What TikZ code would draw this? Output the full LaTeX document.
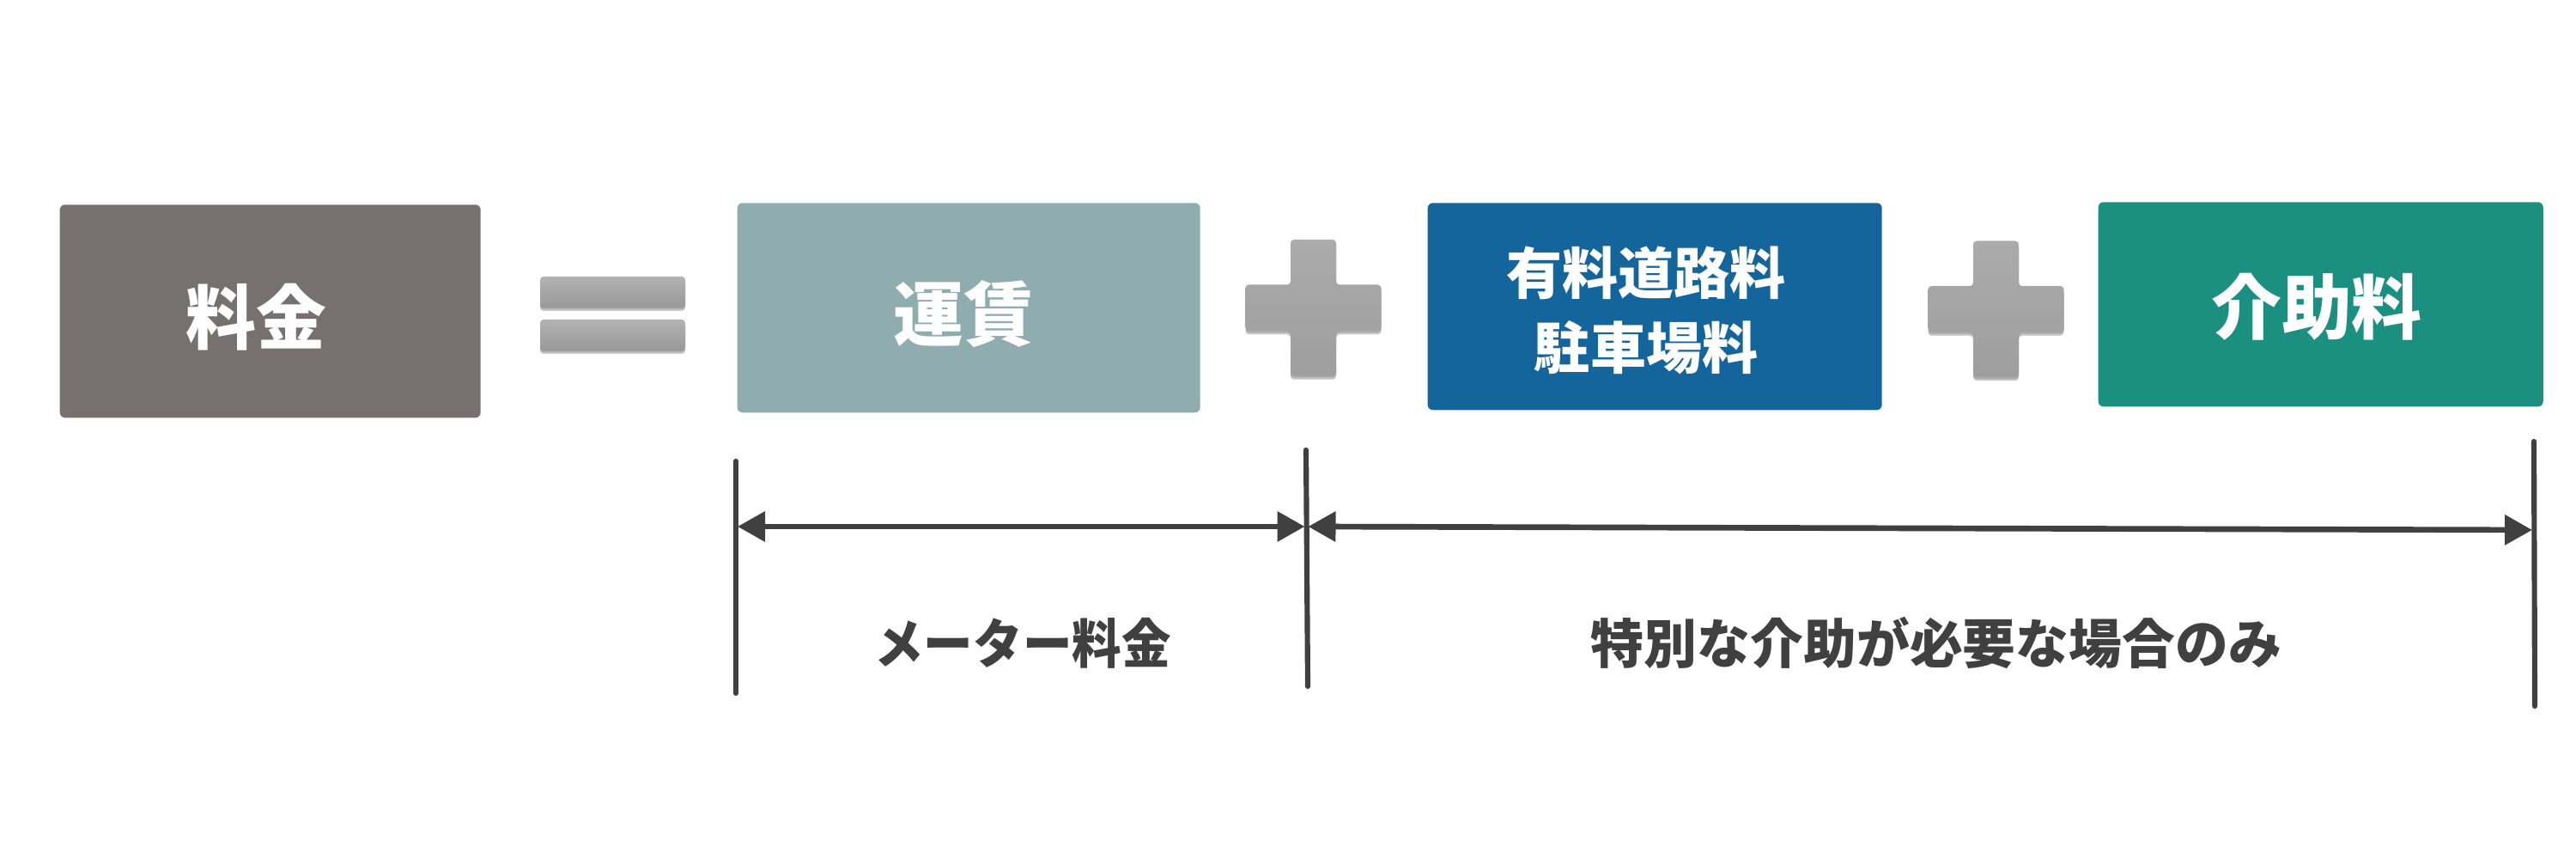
\documentclass[tikz,border=0pt]{standalone}
\usepackage{fontspec}
\newfontfamily\jp{Noto Sans CJK JP}
\usetikzlibrary{arrows.meta}
\definecolor{feegray}{HTML}{767070}
\definecolor{farecol}{HTML}{8FACAE}
\definecolor{tollblue}{HTML}{15659D}
\definecolor{careteal}{HTML}{1B9080}
\definecolor{dimgray}{HTML}{404040}
\tikzset{
  fbox/.style={rounded corners=0.06cm, draw=none},
  boxtext/.style={text=white, font=\jp\bfseries\fontsize{23.3pt}{26pt}\selectfont, inner sep=0pt},
  boxtextsmall/.style={text=white, font=\jp\bfseries\fontsize{18.5pt}{25pt}\selectfont, inner sep=0pt, align=center},
  dimline/.style={draw=dimgray, line width=1.75pt, line cap=round},
  dimarrow/.style={draw=dimgray, line width=1.9pt, {Triangle[length=0.32cm,width=0.34cm]}-{Triangle[length=0.32cm,width=0.34cm]}, shorten <=0.02cm, shorten >=0.02cm},
  dimtext/.style={text=dimgray, font=\jp\bfseries\fontsize{17.6pt}{20pt}\selectfont, inner sep=0pt},
  plussign/.pic={
    \foreach \o/\s in {0.18/-0.05,0.12/-0.035,0.08/-0.02}{
      \fill[black, opacity=\o, shift={(0,\s)}, rounded corners=0.04cm]
        (-0.265,0.79) -- (0.265,0.79) -- (0.265,0.265) -- (0.79,0.265) -- (0.79,-0.265) -- (0.265,-0.265) -- (0.265,-0.79) -- (-0.265,-0.79) -- (-0.265,-0.265) -- (-0.79,-0.265) -- (-0.79,0.265) -- (-0.265,0.265) -- cycle;}
    \shade[top color=black!33, bottom color=black!38, rounded corners=0.04cm]
      (-0.265,0.79) -- (0.265,0.79) -- (0.265,0.265) -- (0.79,0.265) -- (0.79,-0.265) -- (0.265,-0.265) -- (0.265,-0.79) -- (-0.265,-0.79) -- (-0.265,-0.265) -- (-0.79,-0.265) -- (-0.79,0.265) -- (-0.265,0.265) -- cycle;
  },
  equalbar/.pic={
    \foreach \o/\s in {0.2/-0.04,0.12/-0.025,0.08/-0.012}{
      \fill[black, opacity=\o, shift={(0,\s)}, rounded corners=0.04cm] (-0.845,-0.18) rectangle (0.845,0.18);}
    \shade[top color=black!30, bottom color=black!40, rounded corners=0.04cm] (-0.845,-0.18) rectangle (0.845,0.18);
  }
}
\begin{document}
\begin{tikzpicture}
\useasboundingbox[fill=white] (0,0) rectangle (30,10);

% boxes
\node[fbox, fill=feegray, minimum width=4.90cm, minimum height=2.48cm, anchor=south west] (fee) at (0.69,5.13) {};
\node[fbox, fill=farecol, minimum width=5.39cm, minimum height=2.44cm, anchor=south west] (fare) at (8.58,5.19) {};
\node[fbox, fill=tollblue, minimum width=5.29cm, minimum height=2.41cm, anchor=south west] (toll) at (16.62,5.22) {};
\node[fbox, fill=careteal, minimum width=5.18cm, minimum height=2.38cm, anchor=south west] (care) at (24.43,5.26) {};

% box texts
\node[boxtext] (feetext) at (2.98,6.31) {料金};
\node[boxtext] (faretext) at (11.22,6.34) {運賃};
\node[boxtextsmall] (tolltext1) at (19.17,6.82) {有料道路料};
\node[boxtextsmall] (tolltext2) at (19.17,5.95) {駐車場料};
\node[boxtext] (caretext) at (26.98,6.43) {介助料};

% operators
\pic at (7.135,6.60) {equalbar};
\pic at (7.135,6.10) {equalbar};
\pic at (15.295,6.42) {plussign};
\pic at (23.245,6.405) {plussign};

% dimension lines
\coordinate (v1t) at (8.57,4.63);
\coordinate (v1b) at (8.57,1.93);
\coordinate (v2t) at (15.21,4.76);
\coordinate (v2b) at (15.23,2.01);
\coordinate (v3t) at (29.51,4.86);
\coordinate (v3b) at (29.52,1.78);
\draw[dimline] (v1t) -- (v1b);
\draw[dimline] (v2t) -- (v2b);
\draw[dimline] (v3t) -- (v3b);

\coordinate (a1l) at (8.57,3.87);
\coordinate (a1r) at (15.215,3.87);
\coordinate (a2l) at (15.215,3.87);
\coordinate (a2r) at (29.51,3.83);
\draw[dimarrow] (a1l) -- (a1r);
\draw[dimarrow] (a2l) -- (a2r);

\node[dimtext] (meter) at (11.91,2.51) {\scalebox{0.93}[1]{メーター料金}};
\node[dimtext] (special) at (22.55,2.52) {\scalebox{1.0}[1]{特別な介助が必要な場合のみ}};
\end{tikzpicture}
\end{document}
